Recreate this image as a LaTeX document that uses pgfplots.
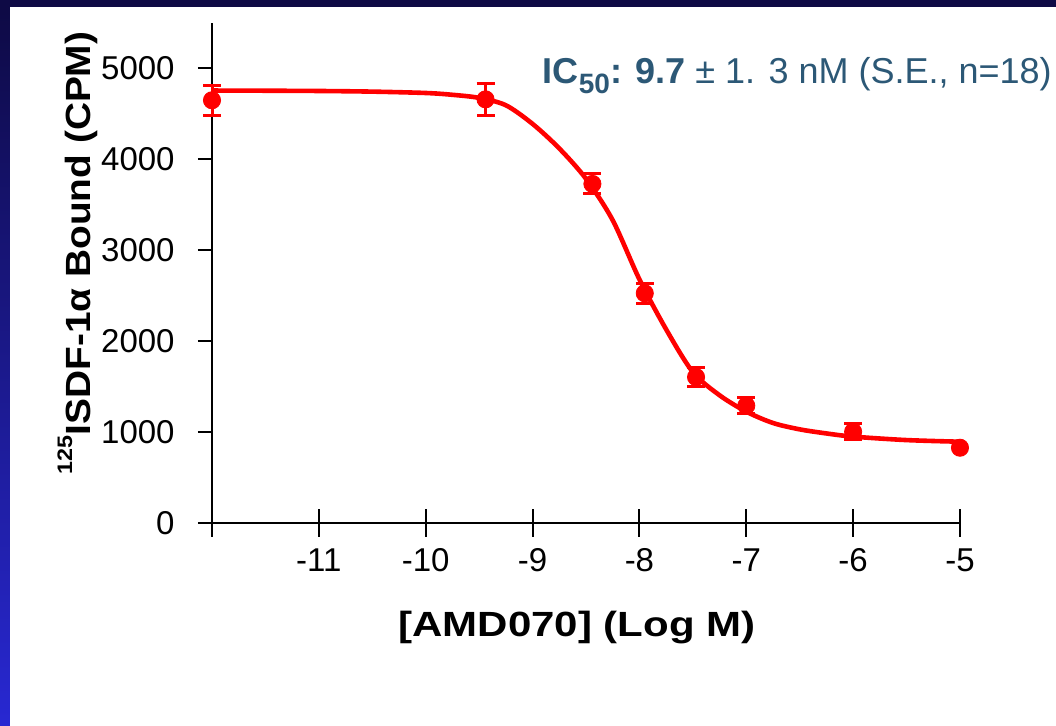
\documentclass[border=0pt]{standalone}
\usepackage{pgfplots}
\pgfplotsset{compat=1.18}
\usepackage{fontspec}
\setmainfont{Liberation Sans}
\definecolor{navy}{RGB}{14,10,69}
\definecolor{blueb}{RGB}{40,40,210}
\definecolor{ictext}{RGB}{44,88,118}

% fitted binding curve
\pgfplotstableread{
x y
-12.00 4757
-11.50 4755
-11.00 4752
-10.50 4745
-10.00 4730
-9.75 4710
-9.50 4676
-9.25 4595
-9.00 4390
-8.75 4120
-8.50 3786
-8.25 3330
-8.00 2680
-7.75 2130
-7.50 1660
-7.25 1405
-7.00 1225
-6.75 1100
-6.50 1030
-6.25 985
-6.00 950
-5.50 912
-5.00 894
}\curve

% measured points with S.E.
\pgfplotstableread{
x y err
-12.00 4650 165
-9.44 4660 175
-8.44 3730 110
-7.95 2527 110
-7.47 1605 105
-7.00 1290 88
-6.00 1004 90
}\points

\begin{document}
\begin{tikzpicture}
\useasboundingbox (0,0) rectangle (528pt,363pt);
\fill[navy] (0,0) rectangle (528pt,363pt);
\shade[top color=navy, bottom color=blueb] (0,0) rectangle (5pt,359.5pt);
\fill[white] (5pt,0) rectangle (528pt,359.5pt);

\begin{axis}[
    at={(106pt,101.5pt)}, anchor=south west,
    scale only axis,
    width=374pt, height=250pt,
    xmin=-12, xmax=-5,
    ymin=0, ymax=5500,
    axis lines=left,
    axis line style={-, line width=1pt},
    xtick={-12,-11,-10,-9,-8,-7,-6,-5},
    xticklabels={{},{-11},{-10},{-9},{-8},{-7},{-6},{-5}},
    ytick={0,1000,2000,3000,4000,5000},
    yticklabels={0,1000,2000,3000,4000,5000},
    tick align=outside,
    major tick length=7pt,
    tick style={line width=1pt, black},
    tick label style={font=\fontsize{16.5}{18}\selectfont},
    yticklabel style={anchor=east, inner sep=0pt, xshift=-11.5pt},
    xticklabel style={anchor=north, inner sep=0pt, yshift=-5.5pt},
    clip=false,
]
% upper halves of the crossing x ticks
\pgfplotsinvokeforeach{-12,-11,-10,-9,-8,-7,-6,-5}{
  \draw[line width=1pt] (axis cs:#1,0) -- ([yshift=7pt]axis cs:#1,0);
}

\addplot[red, line width=2.3pt, smooth, no marks] table[x=x, y=y] {\curve};

\addplot[red, only marks, mark=*, mark size=4.3pt,
    error bars/.cd, y dir=both, y explicit,
    error bar style={red, line width=1.5pt},
    error mark options={red, rotate=90, line width=1.5pt, mark size=4.5pt}]
  table[x=x, y=y, y error=err] {\points};

\addplot[red, only marks, mark=*, mark size=4.3pt] coordinates {(-5,828)};

\node[anchor=base west, inner sep=0pt, text=ictext, font=\fontsize{18}{20}\selectfont]
  at (axis cs:-8.907,4834)
  {\textbf{IC\raisebox{-5pt}{\fontsize{14}{14}\selectfont 50}: 9.7} ± 1. 3 nM (S.E., n=18)};

\node[anchor=base, inner sep=0pt, font=\bfseries\fontsize{17.5}{20}\selectfont]
  at ([yshift=-57pt]axis description cs:0.488,0)
  {\scalebox{1.2}[1]{[AMD070] (Log M)}};

\node[anchor=base, rotate=90, inner sep=0pt, font=\bfseries\fontsize{17.5}{20}\selectfont]
  at ([xshift=-60.5pt]axis description cs:0,0.54)
  {\scalebox{1.11}[1]{\raisebox{9.5pt}{\fontsize{10.5}{10.5}\selectfont 125}ISDF-1α Bound (CPM)}};
\end{axis}
\end{tikzpicture}
\end{document}
